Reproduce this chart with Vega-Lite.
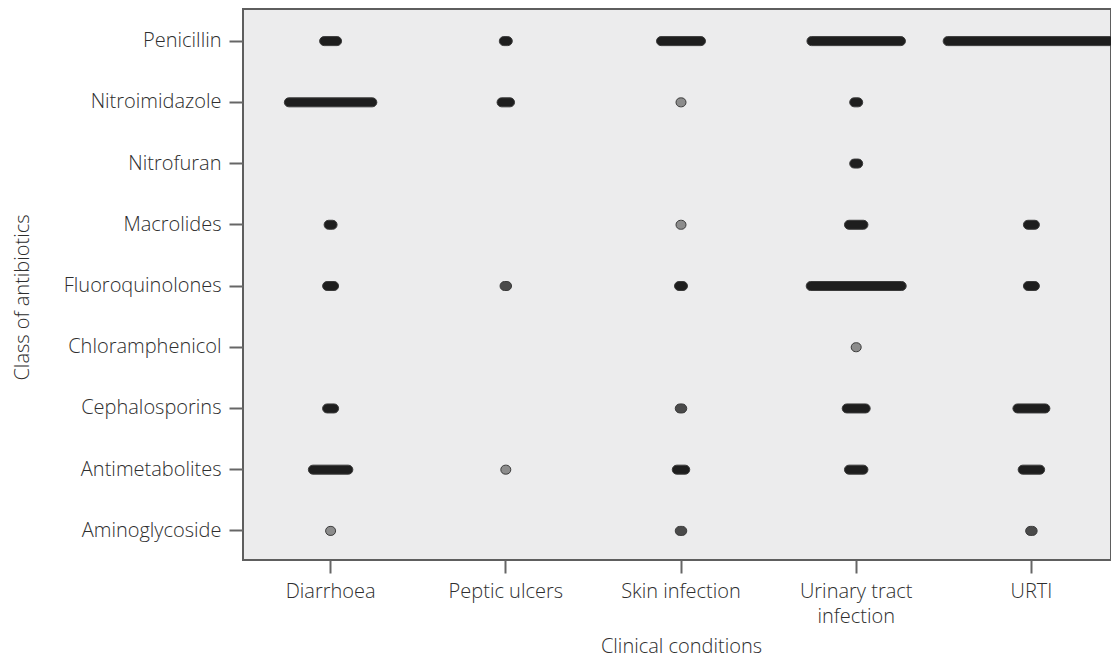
{
  "$schema": "https://vega.github.io/schema/vega-lite/v6.json",
  "autosize": {"type": "none"},
  "padding": {"left": 243, "top": 9, "right": 0, "bottom": 99},
  "width": 868,
  "height": 551,
  "background": "white",
  "config": {
    "view": {"fill": "#ececed", "stroke": "#5e5e5e", "strokeWidth": 2},
    "font": "Open Sans",
    "axis": {
      "labelFont": "Open Sans", "labelFontSize": 20, "labelColor": "#2e2e2e", "labelFontWeight": 300,
      "titleFont": "Open Sans", "titleFontSize": 20, "titleColor": "#2e2e2e", "titleFontWeight": 300,
      "domain": false, "grid": false,
      "tickColor": "#666666", "tickWidth": 2, "tickSize": 13
    }
  },
  "data": {
    "values": [
      {"condition": "Diarrhoea", "antibiotic": "Penicillin", "cases": 9},
      {"condition": "Diarrhoea", "antibiotic": "Nitroimidazole", "cases": 56},
      {"condition": "Diarrhoea", "antibiotic": "Macrolides", "cases": 3},
      {"condition": "Diarrhoea", "antibiotic": "Fluoroquinolones", "cases": 5},
      {"condition": "Diarrhoea", "antibiotic": "Cephalosporins", "cases": 5},
      {"condition": "Diarrhoea", "antibiotic": "Antimetabolites", "cases": 24},
      {"condition": "Diarrhoea", "antibiotic": "Aminoglycoside", "cases": 1},
      {"condition": "Peptic ulcers", "antibiotic": "Penicillin", "cases": 3},
      {"condition": "Peptic ulcers", "antibiotic": "Nitroimidazole", "cases": 6},
      {"condition": "Peptic ulcers", "antibiotic": "Fluoroquinolones", "cases": 2},
      {"condition": "Peptic ulcers", "antibiotic": "Antimetabolites", "cases": 1},
      {"condition": "Skin infection", "antibiotic": "Penicillin", "cases": 27},
      {"condition": "Skin infection", "antibiotic": "Nitroimidazole", "cases": 1},
      {"condition": "Skin infection", "antibiotic": "Macrolides", "cases": 1},
      {"condition": "Skin infection", "antibiotic": "Fluoroquinolones", "cases": 3},
      {"condition": "Skin infection", "antibiotic": "Cephalosporins", "cases": 2},
      {"condition": "Skin infection", "antibiotic": "Antimetabolites", "cases": 6},
      {"condition": "Skin infection", "antibiotic": "Aminoglycoside", "cases": 2},
      {"condition": "Urinary tract infection", "antibiotic": "Penicillin", "cases": 60},
      {"condition": "Urinary tract infection", "antibiotic": "Nitroimidazole", "cases": 3},
      {"condition": "Urinary tract infection", "antibiotic": "Nitrofuran", "cases": 3},
      {"condition": "Urinary tract infection", "antibiotic": "Macrolides", "cases": 10},
      {"condition": "Urinary tract infection", "antibiotic": "Fluoroquinolones", "cases": 61},
      {"condition": "Urinary tract infection", "antibiotic": "Chloramphenicol", "cases": 1},
      {"condition": "Urinary tract infection", "antibiotic": "Cephalosporins", "cases": 13},
      {"condition": "Urinary tract infection", "antibiotic": "Antimetabolites", "cases": 10},
      {"condition": "URTI", "antibiotic": "Penicillin", "cases": 112},
      {"condition": "URTI", "antibiotic": "Macrolides", "cases": 5},
      {"condition": "URTI", "antibiotic": "Fluoroquinolones", "cases": 5},
      {"condition": "URTI", "antibiotic": "Cephalosporins", "cases": 19},
      {"condition": "URTI", "antibiotic": "Antimetabolites", "cases": 12},
      {"condition": "URTI", "antibiotic": "Aminoglycoside", "cases": 2}
    ]
  },
  "mark": {"type": "tick", "orient": "horizontal", "thickness": 9, "cornerRadius": 4.5, "stroke": "#3a3a3a", "strokeWidth": 1, "opacity": 1},
  "encoding": {
    "x": {
      "field": "condition", "type": "nominal",
      "sort": ["Diarrhoea", "Peptic ulcers", "Skin infection", "Urinary tract infection", "URTI"],
      "scale": {"type": "band", "paddingInner": 0, "paddingOuter": 0, "range": [0, 876]},
      "axis": {
        "title": "Clinical conditions", "labelAngle": 0, "labelPadding": 8,
        "labelExpr": "datum.label == 'Urinary tract infection' ? ['Urinary tract', 'infection'] : datum.label",
        "labelLineHeight": 25, "labelBaseline": "top",
        "titleX": 438, "titleY": 86, "titleBaseline": "middle", "titleAnchor": "middle"
      }
    },
    "y": {
      "field": "antibiotic", "type": "nominal",
      "sort": ["Penicillin", "Nitroimidazole", "Nitrofuran", "Macrolides", "Fluoroquinolones", "Chloramphenicol", "Cephalosporins", "Antimetabolites", "Aminoglycoside"],
      "scale": {"type": "band", "paddingInner": 0, "paddingOuter": 0, "range": [1.5, 552.5]},
      "axis": {
        "title": "Class of antibiotics", "labelPadding": 8, "tickSize": 14,
        "titleX": -221, "titleY": 288, "titleAngle": -90, "titleBaseline": "middle", "titleAnchor": "middle"
      }
    },
    "size": {
      "field": "cases", "type": "quantitative", "legend": null,
      "scale": {"type": "linear", "domain": [1, 112], "range": [10, 176.5], "zero": false}
    },
    "color": {
      "field": "cases", "type": "quantitative", "legend": null,
      "scale": {"type": "threshold", "domain": [2, 3], "range": ["#8c8c8c", "#4a4a4a", "#1e1e1e"]}
    }
  }
}
